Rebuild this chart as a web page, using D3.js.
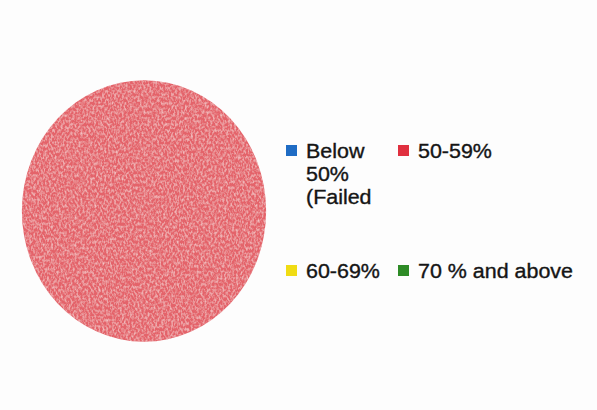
<!DOCTYPE html>
<html>
<head>
<meta charset="utf-8">
<script src="https://cdn.jsdelivr.net/npm/d3@7"></script>
<style>
  html, body { margin: 0; padding: 0; background: #fdfdfd; }
  svg { display: block; }
  text { font-family: "Liberation Sans", Arial, sans-serif; fill: #151515; stroke: #151515; stroke-width: 0.35px; }
</style>
</head>
<body>
<svg id="chart" width="597" height="410"></svg>
<script>
const categories = ["Below 50% (Failed", "50-59%", "60-69%", "70 % and above"];
const values = [0, 100, 0, 0];
const legendLines = [["Below", "50%", "(Failed"], ["50-59%"], ["60-69%"], ["70 % and above"]];
const legendColors = ["#1f6cc4", "#e0303f", "#f0dc14", "#2e8b26"];
const sliceColors = ["#1f6cc4", "#e4636a", "#f0dc14", "#2e8b26"];

const svg = d3.select("#chart");
const defs = svg.append("defs");
const f = defs.append("filter").attr("id", "tex")
  .attr("x", "-5%").attr("y", "-5%").attr("width", "110%").attr("height", "110%");
f.append("feTurbulence").attr("type", "fractalNoise")
  .attr("baseFrequency", "0.5 0.35").attr("numOctaves", 2).attr("seed", 7).attr("result", "n");
f.append("feColorMatrix").attr("in", "n").attr("type", "matrix")
  .attr("values", "0 0 0 0 1  0 0 0 0 0.9  0 0 0 0 0.9  1.1 0 0 0 -0.45")
  .attr("result", "w");
f.append("feComposite").attr("in", "w").attr("in2", "SourceGraphic").attr("operator", "in").attr("result", "wc");
const m = f.append("feMerge");
m.append("feMergeNode").attr("in", "SourceGraphic");
m.append("feMergeNode").attr("in", "wc");

const data = categories.map((c, i) => ({ cat: c, value: values[i], i }));

const pie = d3.pie().sort(null).value(d => d.value);
const radius = 124;
const arc = d3.arc().innerRadius(0).outerRadius(radius);

const g = svg.append("g").attr("transform", "translate(144,211) scale(0.985,1.055)");
g.selectAll("path")
  .data(pie(data).filter(d => d.data.value > 0))
  .join("path")
  .attr("d", arc)
  .attr("fill", d => sliceColors[d.data.i])
  .attr("filter", "url(#tex)");

// legend: 2 columns x 2 rows
const colX = [286, 398];
const rowY = [145, 265];
const lineH = 23;
const legend = svg.append("g");
data.forEach((d, i) => {
  const x = colX[i % 2], y = rowY[Math.floor(i / 2)];
  const item = legend.append("g");
  item.append("rect")
    .attr("x", x).attr("y", y)
    .attr("width", 11).attr("height", 11)
    .attr("fill", legendColors[i]);
  legendLines[i].forEach((ln, k) => {
    item.append("text")
      .attr("transform", `translate(${x + 20},${y + 13 + k * lineH}) scale(1.1,1)`)
      .attr("font-size", 19.5)
      .text(ln);
  });
});
</script>
</body>
</html>
